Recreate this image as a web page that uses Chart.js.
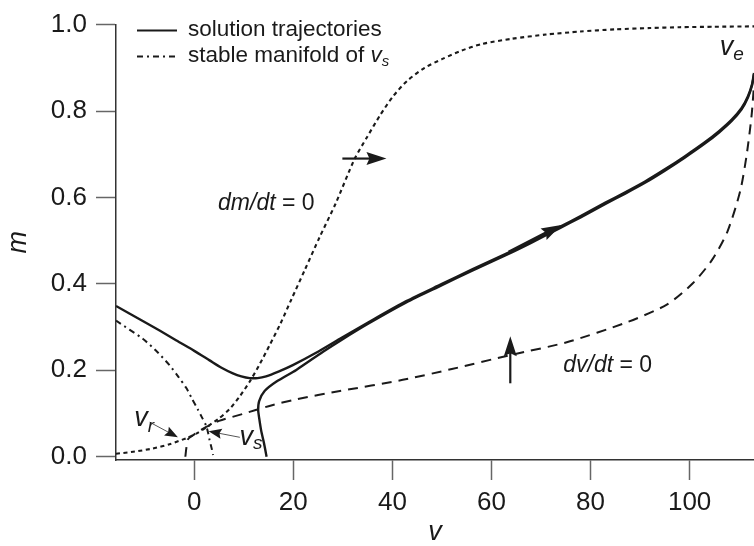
<!DOCTYPE html>
<html>
<head>
<meta charset="utf-8">
<script src="https://cdn.jsdelivr.net/npm/chart.js@4/dist/chart.umd.min.js"></script>
<style>
  html, body { margin: 0; padding: 0; background: #fff; }
  #wrap { width: 754px; height: 546px; }
</style>
</head>
<body>
<div id="wrap"><canvas id="phase" width="754" height="546"></canvas></div>
<script>
// Axis ticks
const xTicks = [0, 20, 40, 60, 80, 100];
const yTicks = [0, 0.2, 0.4, 0.6, 0.8, 1.0];

// dm/dt = 0 nullcline
const dmNullV = [-15.8, -12, -8.4, -5, -1.6, 0.5, 2.4, 4.8, 7.1, 9.2, 11.2, 13.2, 15.2, 17.4, 19.6, 22.3, 25.3, 28.5, 32.4, 34.9, 37.5, 40.2, 43, 46.5, 50, 54, 58, 64, 71, 78, 85, 92, 98, 105, 113];
const dmNullM = [0.007, 0.012, 0.019, 0.029, 0.043, 0.054, 0.068, 0.087, 0.11, 0.14, 0.174, 0.214, 0.258, 0.308, 0.364, 0.432, 0.508, 0.585, 0.69, 0.74, 0.79, 0.835, 0.87, 0.9, 0.92, 0.94, 0.955, 0.967, 0.977, 0.984, 0.989, 0.992, 0.994, 0.995, 0.996];

// dv/dt = 0 nullcline
const dvNullV = [-1.8, -1.6, -1.3, -0.5, 0.8, 2.4, 5, 9.8, 15, 20.6, 29.4, 42.1, 52, 63.7, 75.2, 87.3, 95.4, 100.7, 104.5, 107.6, 110.2, 111.5, 112.5, 113];
const dvNullM = [0, 0.02, 0.04, 0.048, 0.058, 0.069, 0.083, 0.099, 0.117, 0.133, 0.152, 0.178, 0.203, 0.235, 0.265, 0.311, 0.352, 0.402, 0.455, 0.52, 0.614, 0.697, 0.788, 0.86];

// Solution trajectory starting at the left edge
const traj1V = [-15.8, -10.4, -7, -3.6, 0, 3.1, 5.5, 7.8, 9.5, 11.2, 12.8, 14.5, 17, 19.9, 24.5, 29.4, 35, 42.8, 50, 56, 63, 68, 73.8, 78, 83, 87, 91, 95, 99, 103, 106, 108.5, 110.5, 111.8, 112.6, 113];
const traj1M = [0.349, 0.314, 0.292, 0.269, 0.245, 0.223, 0.206, 0.193, 0.186, 0.182, 0.182, 0.186, 0.197, 0.212, 0.24, 0.273, 0.31, 0.36, 0.4, 0.433, 0.47, 0.498, 0.532, 0.557, 0.588, 0.612, 0.637, 0.665, 0.695, 0.727, 0.754, 0.78, 0.807, 0.835, 0.862, 0.888];

// Solution trajectory starting on the v axis
const traj2V = [14.6, 14.1, 13.5, 13.1, 12.9, 13.1, 14.2, 16.6, 20.6, 26, 29.4, 35, 42.8, 50, 56, 63, 68, 73.8, 78, 83, 87, 91, 95, 99, 103, 106, 108.5, 110.5, 111.8, 112.6, 113];
const traj2M = [0, 0.03, 0.061, 0.09, 0.108, 0.129, 0.152, 0.174, 0.201, 0.243, 0.268, 0.307, 0.357, 0.397, 0.43, 0.467, 0.495, 0.529, 0.554, 0.585, 0.609, 0.634, 0.662, 0.692, 0.724, 0.751, 0.777, 0.804, 0.832, 0.859, 0.885];

// Stable manifold of the saddle v_s
const manifoldV = [-15.8, -10.4, -7.5, -5, -3.2, -1.6, -0.4, 0.7, 1.6, 2.4, 2.8, 3.1, 3.5, 3.8];
const manifoldM = [0.315, 0.273, 0.243, 0.212, 0.185, 0.159, 0.133, 0.11, 0.09, 0.072, 0.055, 0.038, 0.02, 0.004];

// Direction-of-flow arrows: [start, tip] in (v, m)
const flowArrowStart = [[63.5, 0.473], [29.9, 0.69], [63.8, 0.17]];
const flowArrowTip   = [[74.1, 0.536], [38.8, 0.69], [63.8, 0.279]];

// Fixed-point pointers: [label anchor, tip]
const pointerStart = [[-9.0, 0.08], [9.2, 0.045]];
const pointerTip   = [[-3.3, 0.045], [2.9, 0.059]];

// Text labels
const dmLabelAt = [4.8, 0.572];
const dvLabelAt = [74.5, 0.197];
const veLabelAt = [106.1, 0.93];
const vrLabelAt = [-12.1, 0.072];
const vsLabelAt = [9.15, 0.027];

const FONT = "'Liberation Sans', Arial, Helvetica, sans-serif";
const INK = '#1a1a1a';

const pts = (vs, ms) => vs.map((v, i) => ({ x: v, y: ms[i] }));

const DASH_DOT = [6, 4, 2, 4];

function arrowHead(ctx, x1, y1, x2, y2, len, half) {
  const a = Math.atan2(y2 - y1, x2 - x1);
  const c = Math.cos(a), s = Math.sin(a);
  ctx.beginPath();
  ctx.moveTo(x2, y2);
  ctx.lineTo(x2 - len * c + half * s, y2 - len * s - half * c);
  ctx.lineTo(x2 - len * c * 0.85, y2 - len * s * 0.85);
  ctx.lineTo(x2 - len * c - half * s, y2 - len * s + half * c);
  ctx.closePath();
  ctx.fill();
}

function subscripted(ctx, base, sub, x, y, size, subSize, drop) {
  ctx.font = `italic ${size}px ${FONT}`;
  ctx.fillText(base, x, y);
  const w = ctx.measureText(base).width;
  ctx.font = `italic ${subSize}px ${FONT}`;
  ctx.fillText(sub, x + w, y + drop);
}

const annotations = {
  id: 'phaseAnnotations',
  afterDatasetsDraw(chart) {
    const { ctx, chartArea: ca, scales: { x, y } } = chart;
    const px = v => x.getPixelForValue(v);
    const py = m => y.getPixelForValue(m);
    ctx.save();
    ctx.fillStyle = INK;
    ctx.strokeStyle = INK;
    ctx.lineCap = 'butt';

    // flow arrows
    const shaftW = [3.4, 2.2, 2.2];
    flowArrowStart.forEach((p, i) => {
      const x1 = px(p[0]), y1 = py(p[1]);
      const x2 = px(flowArrowTip[i][0]), y2 = py(flowArrowTip[i][1]);
      const a = Math.atan2(y2 - y1, x2 - x1);
      const len = 20;
      ctx.lineWidth = shaftW[i];
      ctx.beginPath();
      ctx.moveTo(x1, y1);
      ctx.lineTo(x2 - len * 0.8 * Math.cos(a), y2 - len * 0.8 * Math.sin(a));
      ctx.stroke();
      arrowHead(ctx, x1, y1, x2, y2, len, 6.5);
    });

    // pointers to the fixed points
    pointerStart.forEach((p, i) => {
      const x1 = px(p[0]), y1 = py(p[1]);
      const x2 = px(pointerTip[i][0]), y2 = py(pointerTip[i][1]);
      const a = Math.atan2(y2 - y1, x2 - x1);
      ctx.strokeStyle = '#555';
      ctx.lineWidth = 1;
      ctx.beginPath();
      ctx.moveTo(x1, y1);
      ctx.lineTo(x2 - 10 * Math.cos(a), y2 - 10 * Math.sin(a));
      ctx.stroke();
      ctx.fillStyle = INK;
      arrowHead(ctx, x1, y1, x2, y2, 13, 5);
    });

    // nullcline labels
    ctx.fillStyle = INK;
    ctx.textBaseline = 'alphabetic';
    ctx.textAlign = 'left';
    const eqLabel = (name, at) => {
      ctx.font = `italic 23px ${FONT}`;
      ctx.fillText(name, px(at[0]), py(at[1]));
      const w = ctx.measureText(name).width;
      ctx.font = `23px ${FONT}`;
      ctx.fillText(' = 0', px(at[0]) + w, py(at[1]));
    };
    eqLabel('dm/dt', dmLabelAt);
    eqLabel('dv/dt', dvLabelAt);

    // fixed point labels
    subscripted(ctx, 'v', 'e', px(veLabelAt[0]), py(veLabelAt[1]), 27, 19, 5);
    subscripted(ctx, 'v', 'r', px(vrLabelAt[0]), py(vrLabelAt[1]), 27, 19, 6);
    subscripted(ctx, 'v', 's', px(vsLabelAt[0]), py(vsLabelAt[1]), 27, 19, 4);

    // legend
    const lx = ca.left + 21, lw = 40, tx = ca.left + 72;
    const rows = [ca.top + 6, ca.top + 32];
    ctx.strokeStyle = INK;
    ctx.lineWidth = 2;
    ctx.setLineDash([]);
    ctx.beginPath(); ctx.moveTo(lx, rows[0]); ctx.lineTo(lx + lw, rows[0]); ctx.stroke();
    ctx.setLineDash(DASH_DOT);
    ctx.beginPath(); ctx.moveTo(lx, rows[1]); ctx.lineTo(lx + lw, rows[1]); ctx.stroke();
    ctx.setLineDash([]);
    ctx.font = `22.5px ${FONT}`;
    ctx.fillText('solution trajectories', tx, rows[0] + 5.5);
    const t2 = 'stable manifold of ';
    ctx.fillText(t2, tx, rows[1] + 5.5);
    const w2 = ctx.measureText(t2).width;
    subscripted(ctx, 'v', 's', tx + w2, rows[1] + 5.5, 22.5, 15, 4);
    ctx.restore();
  }
};

const lineSet = (label, vs, ms, dash, width) => ({
  label, data: pts(vs, ms), showLine: true, fill: false,
  borderColor: INK, borderWidth: width, borderDash: dash,
  pointRadius: 0, pointHoverRadius: 0, tension: 0.25
});

new Chart(document.getElementById('phase'), {
  type: 'scatter',
  data: {
    datasets: [
      lineSet('dm/dt = 0', dmNullV, dmNullM, [4, 3.5], 2.1),
      lineSet('dv/dt = 0', dvNullV, dvNullM, [10, 7], 2),
      lineSet('stable manifold of v_s', manifoldV, manifoldM, DASH_DOT, 2),
      lineSet('solution trajectories', traj1V, traj1M, [], 2.4),
      lineSet('solution trajectory 2', traj2V, traj2M, [], 2.4)
    ]
  },
  options: {
    responsive: false,
    animation: false,
    devicePixelRatio: 1,
    layout: { padding: { top: 17, right: 0, bottom: 0, left: 0 } },
    plugins: { legend: { display: false }, tooltip: { enabled: false } },
    scales: {
      x: {
        type: 'linear', position: 'bottom', min: -15.8, max: 113,
        afterBuildTicks: s => { s.ticks = xTicks.map(v => ({ value: v })); },
        afterFit: s => { s.height = 86; },
        ticks: { padding: 7, color: INK, font: { family: FONT, size: 26 }, maxRotation: 0, autoSkip: false, callback: v => String(v) },
        grid: { drawOnChartArea: false, drawTicks: true, tickLength: 20, tickColor: '#666', tickWidth: 1.5 },
        border: { display: true, color: '#333', width: 1.5 },
        title: { display: true, text: 'v', color: INK, font: { family: FONT, size: 27, style: 'italic', lineHeight: 1 }, padding: { top: 0, bottom: 0 } }
      },
      y: {
        type: 'linear', position: 'left', min: -0.0075, max: 1.0,
        afterBuildTicks: s => { s.ticks = yTicks.map(v => ({ value: v })); },
        afterFit: s => { s.width = 116; },
        ticks: { padding: 9, color: INK, font: { family: FONT, size: 26 }, autoSkip: false, callback: v => v.toFixed(1) },
        grid: { drawOnChartArea: false, drawTicks: true, tickLength: 20, tickColor: '#666', tickWidth: 1.5 },
        border: { display: true, color: '#333', width: 1.5 },
        title: { display: true, text: 'm', color: INK, font: { family: FONT, size: 27, style: 'italic', lineHeight: 1 }, padding: { top: 5, bottom: 0 } }
      }
    }
  },
  plugins: [annotations]
});
</script>
</body>
</html>
